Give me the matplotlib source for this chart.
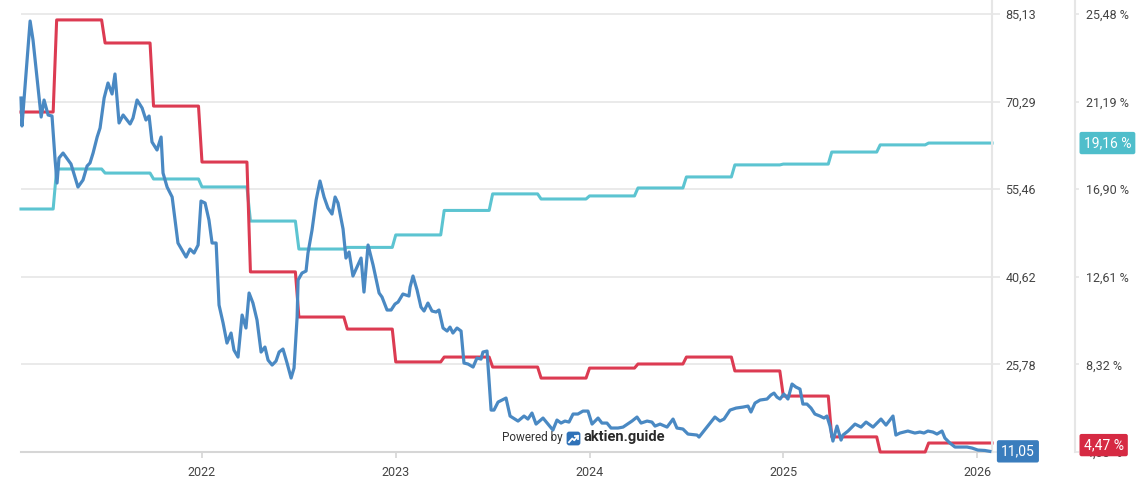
import matplotlib
matplotlib.use("Agg")
import matplotlib.pyplot as plt
from matplotlib.patches import FancyBboxPatch

plt.rcParams["font.family"] = ["Roboto", "DejaVu Sans"]

# ==================== DATA ====================
# Kurs (linke Skala), Zeit als Dezimaljahr
price_t = [
    2021.066, 2021.071, 2021.113, 2021.128, 2021.170, 2021.185, 2021.206, 2021.226, 2021.242, 2021.252,
    2021.262, 2021.283, 2021.324, 2021.360, 2021.386, 2021.407, 2021.422, 2021.438, 2021.459, 2021.474,
    2021.495, 2021.515, 2021.536, 2021.551, 2021.572, 2021.593, 2021.629, 2021.644, 2021.665, 2021.691,
    2021.711, 2021.727, 2021.742, 2021.768, 2021.789, 2021.799, 2021.820, 2021.846, 2021.876, 2021.918,
    2021.938, 2021.959, 2021.980, 2021.995, 2022.016, 2022.036, 2022.052, 2022.073, 2022.088, 2022.109,
    2022.129, 2022.150, 2022.165, 2022.186, 2022.207, 2022.227, 2022.243, 2022.263, 2022.284, 2022.305,
    2022.325, 2022.341, 2022.362, 2022.382, 2022.398, 2022.418, 2022.439, 2022.460, 2022.475, 2022.491,
    2022.496, 2022.516, 2022.537, 2022.547, 2022.568, 2022.589, 2022.609, 2022.630, 2022.650, 2022.671,
    2022.687, 2022.702, 2022.728, 2022.743, 2022.759, 2022.779, 2022.800, 2022.821, 2022.836, 2022.857,
    2022.883, 2022.914, 2022.929, 2022.955, 2022.976, 2022.996, 2023.012, 2023.037, 2023.068, 2023.074,
    2023.089, 2023.110, 2023.130, 2023.146, 2023.166, 2023.187, 2023.208, 2023.223, 2023.244, 2023.265,
    2023.280, 2023.295, 2023.316, 2023.337, 2023.352, 2023.373, 2023.399, 2023.419, 2023.440, 2023.450,
    2023.471, 2023.492, 2023.507, 2023.528, 2023.569, 2023.590, 2023.631, 2023.662, 2023.682, 2023.703,
    2023.724, 2023.760, 2023.811, 2023.832, 2023.853, 2023.873, 2023.894, 2023.915, 2023.940, 2023.966,
    2023.992, 2024.013, 2024.044, 2024.064, 2024.090, 2024.111, 2024.147, 2024.173, 2024.219, 2024.245,
    2024.266, 2024.297, 2024.322, 2024.338, 2024.364, 2024.400, 2024.431, 2024.451, 2024.482, 2024.508,
    2024.555, 2024.565, 2024.606, 2024.647, 2024.673, 2024.694, 2024.725, 2024.756, 2024.792, 2024.818,
    2024.833, 2024.854, 2024.880, 2024.916, 2024.936, 2024.952, 2024.967, 2024.983, 2025.003, 2025.024,
    2025.045, 2025.065, 2025.086, 2025.101, 2025.122, 2025.143, 2025.163, 2025.189, 2025.210, 2025.225,
    2025.241, 2025.256, 2025.277, 2025.298, 2025.308, 2025.334, 2025.370, 2025.401, 2025.427, 2025.463,
    2025.504, 2025.530, 2025.566, 2025.581, 2025.602, 2025.643, 2025.679, 2025.705, 2025.726, 2025.746,
    2025.772, 2025.793, 2025.819, 2025.834, 2025.860, 2025.886, 2025.912, 2025.948, 2025.974, 2026.004,
    2026.040, 2026.066,
]
price_v = [
    70.90, 66.16, 83.94, 80.73, 67.68, 70.56, 68.02, 67.85, 60.40, 56.50,
    60.74, 61.58, 59.72, 55.82, 57.01, 59.38, 59.89, 61.58, 64.29, 65.82,
    70.90, 73.44, 71.58, 74.97, 66.67, 68.02, 66.50, 67.51, 70.56, 69.21,
    67.17, 67.85, 63.45, 62.09, 64.29, 58.19, 55.82, 54.13, 46.34, 43.96,
    45.32, 44.64, 46.00, 53.45, 53.11, 50.23, 46.34, 46.34, 35.83, 32.78,
    29.39, 31.09, 28.21, 27.02, 34.14, 31.94, 37.87, 36.17, 33.29, 27.87,
    28.72, 26.51, 25.67, 26.34, 27.87, 28.38, 26.01, 23.47, 25.16, 33.80,
    40.07, 41.25, 41.59, 44.64, 48.54, 53.62, 56.84, 54.13, 52.27, 51.25,
    54.13, 53.11, 48.71, 43.79, 44.81, 40.75, 42.27, 43.79, 38.03, 46.00,
    42.61, 37.87, 37.19, 34.99, 34.99, 36.00, 36.34, 37.70, 37.36, 38.88,
    40.75, 38.37, 35.49, 34.82, 36.17, 34.82, 34.65, 34.99, 31.94, 31.43,
    32.10, 31.09, 31.94, 31.43, 26.01, 25.84, 25.33, 26.85, 26.68, 27.87,
    28.04, 18.04, 18.04, 19.40, 20.08, 17.03, 16.18, 17.03, 16.52, 17.54,
    15.67, 16.69, 14.66, 16.35, 15.84, 16.18, 16.01, 17.37, 17.37, 17.87,
    17.87, 15.67, 16.69, 15.84, 15.84, 15.00, 15.00, 15.16, 16.18, 16.86,
    15.84, 16.18, 16.01, 15.33, 15.67, 15.16, 16.52, 15.00, 14.83, 13.98,
    13.81, 13.47, 15.16, 16.86, 16.18, 16.52, 18.04, 18.38, 18.55, 18.72,
    17.71, 19.23, 19.74, 19.91, 20.59, 20.92, 20.25, 19.91, 20.75, 19.91,
    22.45, 21.94, 21.60, 19.06, 19.06, 18.38, 17.37, 17.03, 16.69, 17.03,
    15.33, 12.79, 15.33, 12.96, 13.81, 14.49, 15.67, 15.16, 16.01, 15.16,
    16.52, 15.50, 17.03, 13.81, 14.15, 14.49, 14.15, 14.32, 14.15, 14.49,
    14.32, 13.98, 14.49, 13.30, 12.45, 11.78, 11.78, 11.78, 11.61, 11.27,
    11.20, 11.05,
]

# Quartalswerte (rechte Skala, %)
quarter_t = [2021.066, 2021.25, 2021.50, 2021.75, 2022.00, 2022.25, 2022.50, 2022.75, 2023.00, 2023.25,
             2023.50, 2023.75, 2024.00, 2024.25, 2024.50, 2024.75, 2025.00, 2025.25, 2025.50, 2025.75]
red_pct = [20.68, 25.19, 24.06, 20.97, 18.23, 12.85, 10.64, 10.05, 8.44, 8.68,
           8.19, 7.65, 8.14, 8.34, 8.68, 8.00, 6.77, 4.77, 4.03, 4.47]
cyan_pct = [15.93, 17.89, 17.69, 17.40, 17.01, 15.34, 13.97, 14.05, 14.66, 15.86,
            16.67, 16.42, 16.57, 16.96, 17.50, 18.09, 18.13, 18.72, 19.07, 19.16]

t_start, t_end = 2021.066, 2026.077
year_ticks = [2022, 2023, 2024, 2025, 2026]
price_ticks = [10.94, 25.78, 40.62, 55.46, 70.29, 85.13]
pct_ticks = [4.03, 8.32, 12.61, 16.90, 21.19, 25.48]

BLUE = "#4a89c3"
RED = "#dc3b52"
CYAN = "#5cc4d1"
GRID = "#e6e6e6"
TXT = "#444444"


def de(v, suffix=""):
    return f"{v:.2f}".replace(".", ",") + suffix


def step_line(ts, vs, end, ramp=0.018):
    xs, ys = [], []
    for i, v in enumerate(vs):
        nxt = ts[i + 1] - ramp if i + 1 < len(ts) else end
        xs += [ts[i], nxt]
        ys += [v, v]
    return xs, ys


# ==================== PLOT ====================
W, H = 1144, 487
fig = plt.figure(figsize=(W / 100, H / 100), dpi=100)
x0, x1, y_bot = 21, 992, 452
ax = fig.add_axes([x0 / W, 1 - y_bot / H, (x1 - x0) / W, y_bot / H])  # Prozent-Linien
axp = ax.twinx()                                                       # Kurs-Linie

# Skalen so, dass der oberste Tick 14 px unter dem Bildrand liegt
px = 87.6
ax.set_ylim(4.03, 25.48 + 14 * 4.29 / px)
axp.set_ylim(10.94, 85.13 + 14 * 14.84 / px)
ax.set_xlim(t_start, t_end)

rx, ry = step_line(quarter_t, cyan_pct, t_end)
ax.plot(rx, ry, color=CYAN, lw=2.2, solid_joinstyle="round", clip_on=False, zorder=3)
rx, ry = step_line(quarter_t, red_pct, t_end)
ax.plot(rx, ry, color=RED, lw=2.2, solid_joinstyle="round", clip_on=False, zorder=3.1)
axp.plot(price_t, price_v, color=BLUE, lw=2.3, solid_joinstyle="round", clip_on=False, zorder=3)

# Achsen
for a in (ax, axp):
    a.spines["top"].set_visible(False)
    a.spines["left"].set_visible(False)
    a.spines["bottom"].set_visible(False)
ax.spines["bottom"].set_visible(True)
ax.spines["bottom"].set_color("#d6d6d6")
ax.spines["bottom"].set_linewidth(1.5)

ax.yaxis.tick_right()
ax.spines["right"].set_position(("outward", 83 * 0.72))
ax.spines["right"].set_color(GRID)
ax.spines["right"].set_linewidth(1.5)
axp.spines["right"].set_color(GRID)
axp.spines["right"].set_linewidth(1.5)

ax.set_yticks(pct_ticks)
ax.set_yticklabels([de(v, " %") for v in pct_ticks])
axp.set_yticks(price_ticks)
axp.set_yticklabels([de(v) for v in price_ticks])
ax.tick_params(axis="y", colors=GRID, labelcolor=TXT, labelsize=9, length=3, width=1.2, pad=5)
axp.tick_params(axis="y", colors=GRID, labelcolor=TXT, labelsize=9, length=6, width=1.2, pad=3.5)

ax.set_xticks(year_ticks)
ax.set_xticklabels([str(y) for y in year_ticks])
ax.tick_params(axis="x", colors="#d6d6d6", labelcolor=TXT, labelsize=9, length=4, width=1.2, pad=6)

ax.grid(axis="y", color=GRID, lw=1.2)
ax.set_axisbelow(True)

# Wert-Labels am rechten Rand
box = dict(boxstyle="round,pad=0.3,rounding_size=0.15", ec="none")
axp.annotate(de(price_v[-1]), xy=(1, price_v[-1]), xycoords=("axes fraction", "data"),
             xytext=(6.5, 0), textcoords="offset points", va="center", ha="left",
             color="white", fontsize=10, bbox={**box, "fc": "#3a7dbd"}, annotation_clip=False, zorder=5)
ax.annotate(de(red_pct[-1], " %"), xy=(1, red_pct[-1]), xycoords=("axes fraction", "data"),
            xytext=(66, -1.5), textcoords="offset points", va="center", ha="left",
            color="white", fontsize=10, bbox={**box, "fc": "#d62a43"}, annotation_clip=False, zorder=5)
ax.annotate(de(cyan_pct[-1], " %"), xy=(1, cyan_pct[-1]), xycoords=("axes fraction", "data"),
            xytext=(66, 0), textcoords="offset points", va="center", ha="left",
            color="white", fontsize=10, bbox={**box, "fc": "#4fbecb"}, annotation_clip=False, zorder=5)

# Wasserzeichen
fig.text(502 / W, 1 - 438 / H, "Powered by", fontsize=8.5, color="#333333", va="center")
fig.text(583 / W, 1 - 437 / H, "aktien.guide", fontsize=10.5, fontweight="bold", color="#2a2a2a", va="center")
icon = fig.add_axes([566 / W, 1 - 446 / H, 15 / W, 15 / H])
icon.set_xlim(0, 1)
icon.set_ylim(0, 1)
icon.axis("off")
icon.add_patch(FancyBboxPatch((0.04, 0.04), 0.92, 0.92, boxstyle="round,pad=0,rounding_size=0.18",
                              fc="#2f72b8", ec="none"))
icon.plot([0.2, 0.42, 0.55, 0.8], [0.25, 0.5, 0.38, 0.68], color="white", lw=1.3)
icon.plot([0.62, 0.8, 0.8], [0.68, 0.68, 0.5], color="white", lw=1.3)

fig.savefig("out.png", dpi=100)
